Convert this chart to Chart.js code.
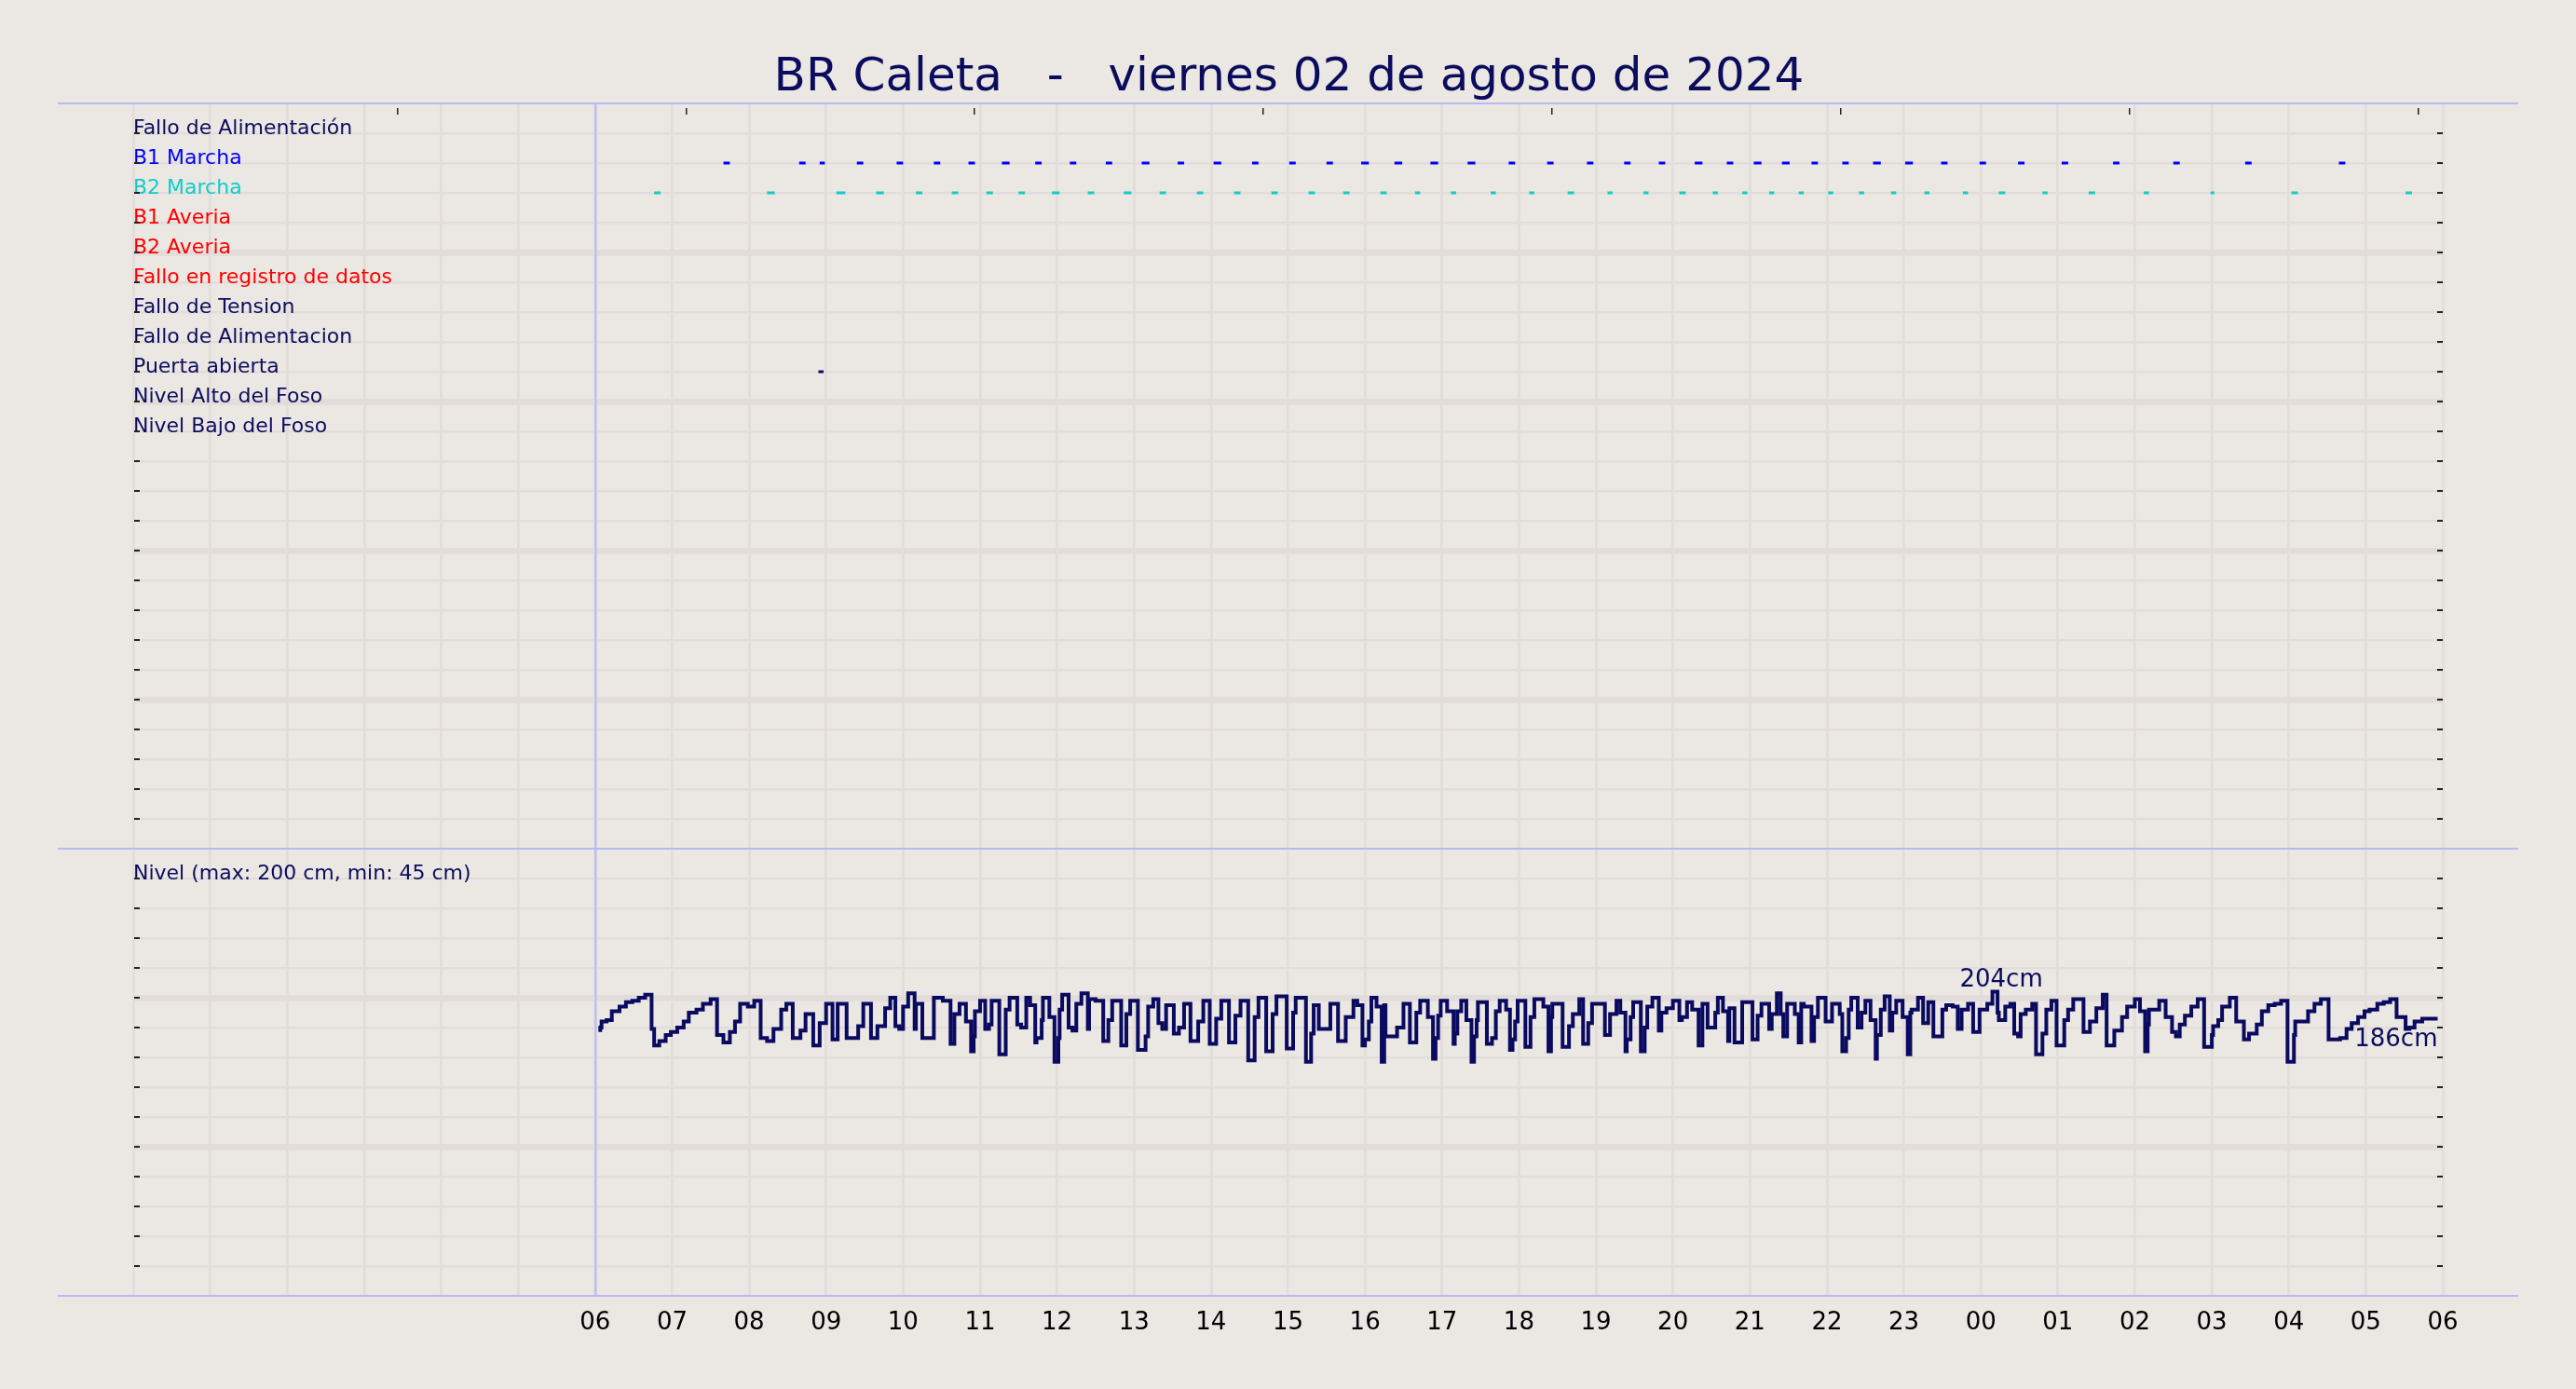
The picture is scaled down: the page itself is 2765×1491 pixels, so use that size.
<!DOCTYPE html>
<html lang="es">
<head>
<meta charset="utf-8">
<title>BR Caleta - viernes 02 de agosto de 2024</title>
<script src="https://cdn.jsdelivr.net/npm/chart.js@4.4.1/dist/chart.umd.min.js"></script>
<style>
  html, body { margin: 0; padding: 0; background: #ebe7e2; }
  canvas { display: block; }
</style>
</head>
<body>
<canvas id="levelChart" width="2765" height="1491" style="width:2765px;height:1491px"></canvas>
<script>
const TITLE = 'BR Caleta   -   viernes 02 de agosto de 2024';

const rowLabels = [
  'Fallo de Alimentación', 'B1 Marcha', 'B2 Marcha', 'B1 Averia', 'B2 Averia',
  'Fallo en registro de datos', 'Fallo de Tension', 'Fallo de Alimentacion',
  'Puerta abierta', 'Nivel Alto del Foso', 'Nivel Bajo del Foso',
];
const rowColors = [
  '#0c0c5e', '#0000ff', '#11cccc', '#ff0000', '#ff0000',
  '#ff0000', '#0c0c5e', '#0c0c5e', '#0c0c5e', '#0c0c5e', '#0c0c5e',
];
const levelNote = 'Nivel (max: 200 cm, min: 45 cm)';

// x axis runs from 00:00 to 06:00 of the next day, in minutes
const DAY_START = 360;
const hourTicks = [0, 60, 120, 180, 240, 300, 360, 420, 480, 540, 600, 660, 720, 780, 840, 900,
  960, 1020, 1080, 1140, 1200, 1260, 1320, 1380, 1440, 1500, 1560, 1620, 1680, 1740, 1800];
const topTickMinutes = [206, 431, 656, 881, 1106, 1331, 1556, 1781];

// pit level, minutes after 06:00 and cm
const levelMinute = [
  4, 5, 9, 13, 19, 24, 29, 34, 39, 44,
  46, 50, 55, 59, 64, 69, 73, 79, 84, 90,
  95, 100, 105, 109, 113, 119, 124, 129, 134, 139,
  145, 149, 154, 160, 164, 170, 175, 180, 185, 189,
  196, 205, 209, 215, 220, 226, 230, 234, 237, 240,
  244, 249, 250, 255, 264, 271, 277, 280, 284, 289,
  293, 295, 296, 300, 304, 307, 309, 315, 320, 323,
  329, 332, 336, 339, 343, 344, 348, 349, 354, 358,
  361, 362, 364, 369, 372, 375, 379, 384, 385, 390,
  396, 400, 403, 410, 414, 417, 423, 429, 431, 435,
  439, 442, 445, 451, 455, 459, 464, 470, 474, 479,
  484, 488, 494, 499, 503, 509, 514, 517, 523, 528,
  531, 539, 544, 546, 554, 558, 560, 564, 573, 579,
  585, 591, 594, 598, 600, 603, 605, 609, 613, 615,
  616, 625, 630, 635, 640, 643, 649, 653, 655, 657,
  659, 664, 669, 670, 672, 675, 679, 683, 685, 687,
  688, 695, 699, 702, 705, 710, 713, 715, 717, 719,
  725, 729, 732, 739, 743, 745, 746, 754, 759, 762,
  767, 770, 774, 777, 787, 791, 796, 799, 803, 804,
  807, 809, 815, 818, 820, 824, 829, 831, 835, 840,
  845, 847, 851, 855, 860, 863, 867, 873, 875, 879,
  883, 884, 888, 894, 902, 906, 909, 915, 917, 921,
  924, 926, 929, 935, 938, 940, 942, 948, 950, 953,
  959, 964, 970, 972, 975, 977, 979, 984, 987, 990,
  994, 998, 999, 1002, 1005, 1009, 1011, 1014, 1019, 1023,
  1025, 1026, 1031, 1035, 1039, 1043, 1050, 1053, 1058, 1062,
  1065, 1070, 1074, 1079, 1085, 1089, 1093, 1094, 1099, 1103,
  1106, 1109, 1111, 1115, 1120, 1123, 1128, 1131, 1135, 1139,
  1145, 1148, 1152, 1160, 1165, 1170, 1175, 1178, 1184, 1190,
  1194, 1200, 1204, 1208, 1210, 1211, 1219, 1224, 1229, 1232,
  1235, 1239, 1244, 1249, 1254, 1260, 1261, 1265, 1268, 1274,
  1279, 1285, 1289, 1295, 1299, 1304, 1309, 1314, 1319, 1324,
  1325, 1335, 1340, 1345, 1351, 1360, 1365, 1369, 1374, 1379,
  1383, 1389, 1394, 1399, 1404, 1411, 1414, 1418, 1424, 1429, 1436,
];
const levelCm = [
  177, 180, 184, 185, 191, 194, 197, 198, 200, 202,
  179, 168, 171, 175, 177, 180, 184, 190, 192, 196,
  199, 175, 170, 177, 184, 196, 194, 198, 173, 171,
  179, 192, 196, 173, 178, 189, 168, 183, 196, 172,
  196, 173, 181, 196, 173, 181, 193, 200, 181, 179,
  194, 203, 179, 196, 173, 200, 198, 169, 189, 196,
  184, 164, 174, 191, 198, 179, 182, 198, 162, 192,
  200, 182, 180, 200, 195, 170, 173, 185, 200, 187,
  157, 173, 192, 202, 180, 178, 196, 203, 179, 199,
  198, 171, 185, 198, 168, 189, 198, 165, 174, 194,
  199, 183, 179, 195, 176, 180, 196, 171, 184, 198,
  169, 186, 198, 170, 188, 198, 158, 187, 200, 164,
  189, 201, 166, 190, 200, 157, 176, 195, 179, 196,
  171, 187, 198, 195, 168, 172, 184, 200, 194, 157,
  195, 174, 180, 196, 170, 190, 198, 187, 159, 173,
  188, 198, 191, 169, 176, 191, 198, 185, 157, 174,
  185, 197, 169, 173, 191, 198, 192, 165, 172, 184,
  198, 167, 187, 199, 194, 164, 187, 196, 167, 181,
  189, 199, 169, 183, 196, 175, 189, 198, 190, 164,
  172, 187, 197, 164, 180, 194, 200, 178, 190, 193,
  198, 185, 187, 197, 192, 168, 196, 180, 190, 200,
  191, 171, 193, 170, 197, 172, 188, 196, 179, 189,
  203, 189, 174, 196, 189, 170, 196, 194, 171, 187,
  200, 184, 196, 189, 164, 173, 192, 200, 180, 190,
  198, 185, 159, 175, 192, 201, 178, 190, 198, 187,
  162, 190, 192, 200, 183, 197, 174, 192, 195, 194,
  179, 192, 196, 177, 192, 196, 204, 190, 185, 194,
  196, 176, 174, 189, 192, 196, 162, 176, 192, 198,
  168, 185, 192, 199, 177, 184, 193, 202, 168, 178,
  187, 194, 199, 191, 164, 182, 192, 198, 187, 177,
  174, 182, 188, 194, 199, 167, 175, 181, 185, 194,
  200, 184, 172, 176, 182, 191, 195, 196, 198, 157,
  175, 184, 191, 196, 199, 172, 173, 179, 183, 187,
  191, 192, 196, 197, 199, 187, 179, 180, 184, 186, 186,
];

// pump and door events, minutes after 06:00
const b1Start = [100, 159, 175, 204, 235, 264, 291, 317, 343, 370, 398, 426, 454, 482, 512, 541, 570, 597, 623, 651,
  680, 712, 742, 773, 802, 829, 857, 882, 903, 925, 948, 972, 996, 1021, 1049, 1079, 1109, 1143, 1183, 1230, 1286, 1359];
const b1End = [105, 164, 179, 209, 240, 269, 296, 323, 348, 375, 403, 432, 459, 488, 517, 546, 575, 603, 629, 657,
  686, 717, 747, 778, 807, 834, 863, 887, 909, 931, 953, 977, 1002, 1027, 1054, 1084, 1114, 1148, 1188, 1235, 1291, 1364];
const b2Start = [46, 134, 188, 219, 250, 278, 305, 330, 356, 384, 412, 440, 469, 498, 527, 556, 583, 612, 639, 667,
  698, 728, 758, 789, 817, 845, 871, 894, 915, 938, 961, 985, 1010, 1036, 1066, 1094, 1128, 1164, 1207, 1259, 1322, 1411];
const b2End = [51, 140, 195, 225, 255, 283, 310, 335, 362, 389, 418, 445, 474, 503, 532, 561, 588, 617, 643, 671,
  702, 732, 763, 793, 821, 850, 875, 898, 919, 942, 965, 989, 1014, 1040, 1070, 1099, 1132, 1169, 1211, 1262, 1327, 1416];
const doorStart = [174];
const doorEnd = [178];

const COLORS = {
  bg: '#ebe7e2',
  grid: '#e2dddb',
  frame: '#b8b8f4',
  navy: '#0c0c5e',
  line: '#0a0a60',
  b1: '#0000ff',
  b2: '#10cccc',
  tick: '#222222',
};
const FONT = '"DejaVu Sans", "Liberation Sans", sans-serif';

function pad2(n) {
  return String(n).padStart(2, '0');
}

function dashes(starts, ends, row) {
  const pts = [];
  starts.forEach((s, i) => {
    pts.push({ x: DAY_START + s, y: row });
    pts.push({ x: DAY_START + ends[i], y: row });
    pts.push({ x: DAY_START + ends[i], y: null });
  });
  return pts;
}

function eventDataset(label, starts, ends, row, color) {
  return {
    label,
    data: dashes(starts, ends, row),
    yAxisID: 'yEv',
    borderColor: color,
    borderWidth: 3,
    borderCapStyle: 'butt',
    pointRadius: 0,
    spanGaps: false,
  };
}

const framePlugin = {
  id: 'frame',
  beforeDraw(chart) {
    const { ctx, width, height } = chart;
    ctx.save();
    ctx.fillStyle = COLORS.bg;
    ctx.fillRect(0, 0, width, height);
    ctx.restore();
  },
  beforeDatasetsDraw(chart) {
    const { ctx, chartArea: a, scales } = chart;
    ctx.save();
    ctx.fillStyle = COLORS.tick;
    ['yEv', 'yLv'].forEach((id) => {
      const s = scales[id];
      s.ticks.forEach((t) => {
        const y = Math.round(s.getPixelForValue(t.value));
        ctx.fillRect(a.left + 1, y - 1, 6, 2);
        ctx.fillRect(a.right - 6, y - 1, 6, 2);
      });
    });
    topTickMinutes.forEach((v) => {
      const x = Math.round(scales.x.getPixelForValue(v));
      ctx.fillRect(x - 1, a.top + 5, 1.5, 7);
    });

    ctx.strokeStyle = COLORS.frame;
    ctx.lineWidth = 2;
    ctx.beginPath();
    [a.top, scales.yEv.bottom, a.bottom].forEach((y) => {
      ctx.moveTo(a.left - 81, y);
      ctx.lineTo(a.right + 81, y);
    });
    const x6 = Math.round(scales.x.getPixelForValue(DAY_START)) + 0.5;
    ctx.moveTo(x6, a.top);
    ctx.lineTo(x6, a.bottom);
    ctx.stroke();
    ctx.restore();
  },
  afterDraw(chart) {
    const { ctx, chartArea: a, scales } = chart;
    ctx.save();
    ctx.fillStyle = COLORS.navy;
    ctx.font = `50px ${FONT}`;
    ctx.textAlign = 'center';
    ctx.textBaseline = 'alphabetic';
    ctx.fillText(TITLE, (a.left + a.right) / 2 + 1, a.top - 14);

    // max and last level notes
    let iMax = 0;
    levelCm.forEach((v, i) => { if (v > levelCm[iMax]) iMax = i; });
    const iLast = levelCm.length - 1;
    ctx.font = `26px ${FONT}`;
    const xm = scales.x.getPixelForValue(DAY_START + levelMinute[iMax]);
    const ym = scales.yLv.getPixelForValue(levelCm[iMax]);
    ctx.fillText(`${levelCm[iMax]}cm`, xm + 4, ym - 6);
    const xl = scales.x.getPixelForValue(DAY_START + levelMinute[iLast]);
    const yl = scales.yLv.getPixelForValue(levelCm[iLast]);
    ctx.textAlign = 'right';
    ctx.fillText(`${levelCm[iLast]}cm`, xl, yl + 30);
    ctx.restore();
  },
};

const ctx = document.getElementById('levelChart').getContext('2d');

new Chart(ctx, {
  type: 'line',
  data: {
    datasets: [
      eventDataset('B1 Marcha', b1Start, b1End, 2, COLORS.b1),
      eventDataset('B2 Marcha', b2Start, b2End, 3, COLORS.b2),
      eventDataset('Puerta abierta', doorStart, doorEnd, 9, COLORS.navy),
      {
        label: 'Nivel',
        data: levelMinute.map((m, i) => ({ x: DAY_START + m, y: levelCm[i] })),
        yAxisID: 'yLv',
        stepped: 'after',
        borderColor: COLORS.line,
        borderWidth: 4,
        pointRadius: 0,
      },
    ],
  },
  options: {
    responsive: false,
    animation: false,
    devicePixelRatio: 1,
    layout: { padding: { top: 111, left: 143, right: 143, bottom: 0 } },
    plugins: {
      legend: { display: false },
      tooltip: { enabled: false },
    },
    scales: {
      x: {
        type: 'linear',
        min: 0,
        max: 1800,
        afterBuildTicks: (s) => { s.ticks = hourTicks.map((v) => ({ value: v })); },
        afterFit: (s) => { s.height = 100; },
        border: { display: false },
        grid: { color: COLORS.grid, lineWidth: 2.7, drawTicks: false },
        ticks: {
          autoSkip: false,
          maxRotation: 0,
          padding: 14,
          color: '#000000',
          font: { family: FONT, size: 26 },
          callback: (v) => (v < DAY_START ? '' : pad2(Math.floor(v / 60) % 24)),
        },
      },
      yLv: {
        type: 'linear',
        position: 'left',
        stack: 'panels',
        stackWeight: 15,
        min: 0,
        max: 300,
        afterBuildTicks: (s) => {
          const t = [];
          for (let v = 20; v < 300; v += 20) t.push({ value: v });
          s.ticks = t;
        },
        afterFit: (s) => { s.width = 0; },
        border: { display: false },
        grid: {
          color: COLORS.grid,
          drawTicks: false,
          lineWidth: (c) => (c.tick && c.tick.value % 100 === 0 ? 6.7 : 2.5),
        },
        ticks: {
          mirror: true,
          padding: 0,
          labelOffset: -5,
          autoSkip: false,
          color: COLORS.navy,
          font: { family: FONT, size: 22 },
          callback: (v) => (v === 280 ? levelNote : ''),
        },
      },
      yEv: {
        type: 'linear',
        position: 'left',
        stack: 'panels',
        stackWeight: 25,
        reverse: true,
        min: 0,
        max: 25,
        afterBuildTicks: (s) => {
          const t = [];
          for (let v = 1; v < 25; v++) t.push({ value: v });
          s.ticks = t;
        },
        afterFit: (s) => { s.width = 0; },
        border: { display: false },
        grid: {
          color: COLORS.grid,
          drawTicks: false,
          lineWidth: (c) => (c.tick && c.tick.value % 5 === 0 ? 6.7 : 2.5),
        },
        ticks: {
          mirror: true,
          padding: 0,
          labelOffset: -5,
          autoSkip: false,
          font: { family: FONT, size: 22 },
          color: (c) => rowColors[c.tick.value - 1] || COLORS.navy,
          callback: (v) => rowLabels[v - 1] || '',
        },
      },
    },
  },
  plugins: [framePlugin],
});
</script>
</body>
</html>
